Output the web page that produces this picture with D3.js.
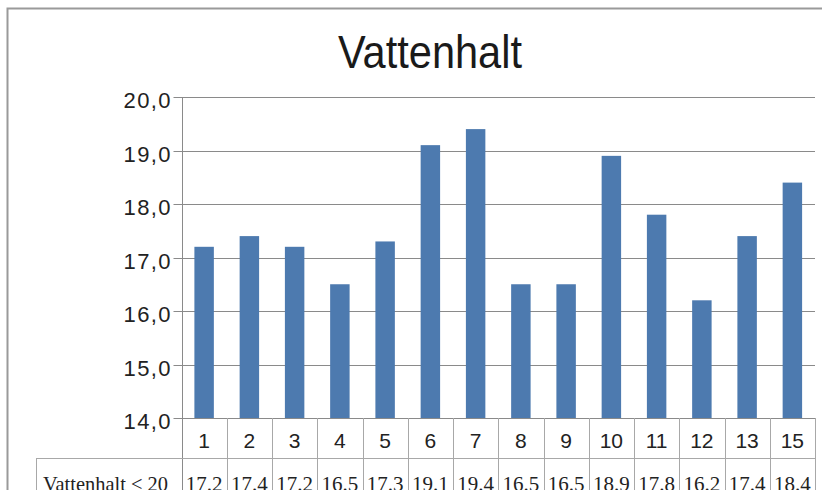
<!DOCTYPE html>
<meta charset="utf-8">
<style>
    body { margin: 0; background: #fff; }
    .grid line { stroke: #8a8a8a; stroke-width: 1px; }
    .tick-label { font: 22px "Liberation Sans", Arial, sans-serif; letter-spacing: 1.4px; fill: #222; }
    .cat-label { font: 21px "Liberation Sans", Arial, sans-serif; fill: #222; }
    .cell-text { font: 21px "Liberation Serif", "Times New Roman", serif; fill: #222; }
    .table line { stroke: #a8a8a8; stroke-width: 1px; }
</style>
<body>
<script src="https://d3js.org/d3.v7.min.js"></script>
<script>
    // chart data
    var categories = ["1", "2", "3", "4", "5", "6", "7", "8", "9", "10", "11", "12", "13", "15"];
    var values = [17.2, 17.4, 17.2, 16.5, 17.3, 19.1, 19.4, 16.5, 16.5, 18.9, 17.8, 16.2, 17.4, 18.4];
    var yTicks = [14, 15, 16, 17, 18, 19, 20];
    var seriesName = "Vattenhalt < 20";
    var title = "Vattenhalt";

    var width = 822, height = 490;
    var plot = { left: 181.5, right: 815, top: 97, bottom: 418 };

    var svg = d3.select("body").append("svg")
        .attr("width", width)
        .attr("height", height);

    // outer frame
    svg.append("rect")
        .attr("x", 7.5).attr("y", 8.5)
        .attr("width", 900).attr("height", 600)
        .attr("fill", "none")
        .attr("stroke", "#9a9a9a")
        .attr("stroke-width", 2);

    // title
    svg.append("text")
        .attr("x", 430).attr("y", 68)
        .attr("text-anchor", "middle")
        .attr("textLength", 184)
        .attr("lengthAdjust", "spacingAndGlyphs")
        .style("font", "46px 'Liberation Sans', Arial, sans-serif")
        .style("fill", "#1a1a1a")
        .text(title);

    // scales
    var y = d3.scaleLinear().domain([14, 20]).range([plot.bottom, plot.top]);
    var cell = d3.scaleBand().domain(categories).range([plot.left, plot.right]).padding(0);
    var x = d3.scaleBand().domain(categories).range([plot.left, plot.right])
        .paddingInner(0.57).paddingOuter(0.285);

    // gridlines and tick marks
    var grid = svg.append("g").attr("class", "grid");
    grid.selectAll("line").data(yTicks).enter().append("line")
        .attr("x1", plot.left - 8)
        .attr("x2", plot.right)
        .attr("y1", function(d) { return Math.round(y(d)) + 0.5; })
        .attr("y2", function(d) { return Math.round(y(d)) + 0.5; });

    svg.selectAll(".tick-label").data(yTicks).enter().append("text")
        .attr("class", "tick-label")
        .attr("x", 172)
        .attr("y", function(d) { return y(d) + 11; })
        .attr("text-anchor", "end")
        .text(function(d) { return d3.format(".1f")(d).replace(".", ","); });

    // bars
    svg.selectAll(".bar").data(values).enter().append("rect")
        .attr("class", "bar")
        .attr("x", function(d, i) { return x(categories[i]); })
        .attr("width", x.bandwidth())
        .attr("y", function(d) { return y(d); })
        .attr("height", function(d) { return y(14) - y(d); })
        .attr("fill", "#4d7aaf");

    // data table under the chart
    var table = svg.append("g").attr("class", "table");
    var edges = categories.map(function(c) { return cell(c); }).concat([plot.right]);

    // y axis line
    table.append("line")
        .attr("x1", Math.round(plot.left) + 0.5).attr("x2", Math.round(plot.left) + 0.5)
        .attr("y1", plot.top).attr("y2", height)
        .style("stroke", "#8a8a8a");

    table.selectAll(".sep").data(edges.slice(1)).enter().append("line")
        .attr("class", "sep")
        .attr("x1", function(d) { return Math.round(d) + 0.5; })
        .attr("x2", function(d) { return Math.round(d) + 0.5; })
        .attr("y1", plot.bottom)
        .attr("y2", height);

    table.append("line")
        .attr("x1", 36).attr("x2", plot.right)
        .attr("y1", 458.5).attr("y2", 458.5);

    table.append("line")
        .attr("x1", 36.5).attr("x2", 36.5)
        .attr("y1", 458.5).attr("y2", height);

    // category labels
    svg.selectAll(".cat-label").data(categories).enter().append("text")
        .attr("class", "cat-label")
        .attr("x", function(d) { return cell(d) + cell.bandwidth() / 2; })
        .attr("y", 448)
        .attr("text-anchor", "middle")
        .text(function(d) { return d; });

    // series row
    svg.append("text")
        .attr("class", "cell-text")
        .attr("x", 43).attr("y", 491)
        .attr("textLength", 125)
        .attr("lengthAdjust", "spacingAndGlyphs")
        .text(seriesName);

    svg.selectAll(".val").data(values).enter().append("text")
        .attr("class", "cell-text val")
        .attr("x", function(d, i) { return cell(categories[i]) + cell.bandwidth() / 2; })
        .attr("y", 491)
        .attr("text-anchor", "middle")
        .text(function(d) { return d3.format(".1f")(d); });
</script>
</body>
